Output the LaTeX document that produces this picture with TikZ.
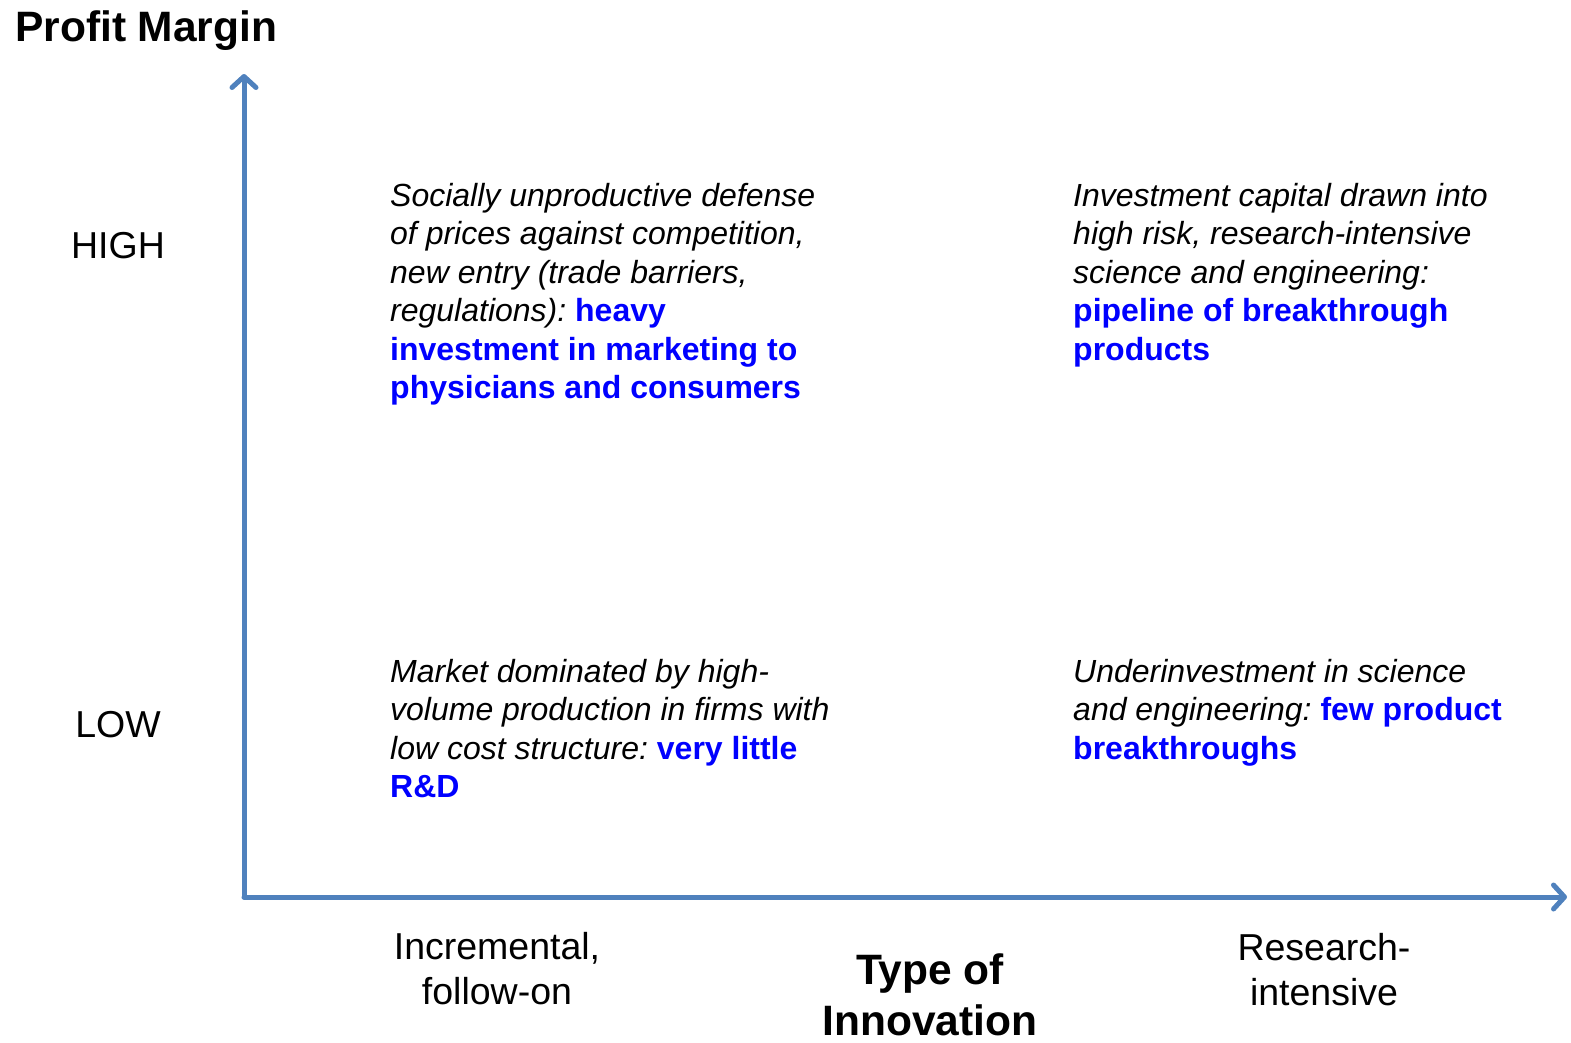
\documentclass[tikz,border=0pt]{standalone}
\usepackage{fontspec}
\setmainfont{Liberation Sans}
\usetikzlibrary{arrows.meta}
\definecolor{axisblue}{RGB}{79,129,189}
\definecolor{hiblue}{RGB}{0,0,255}
\newcommand{\hl}[1]{\textcolor{hiblue}{\bfseries\upshape #1}}
\frenchspacing

\begin{document}
\begin{tikzpicture}[x=1pt, y=-1pt,
  axis/.style = {draw=axisblue, line width=5pt, line cap=round, -{Straight Barb[length=11pt, width=24pt, round]}},
  cell/.style = {anchor=north west, inner sep=0pt, align=left, font=\fontsize{32}{38.5}\selectfont\itshape},
  level/.style = {inner sep=0pt, font=\fontsize{37.5}{45}\selectfont},
  title/.style = {inner sep=0pt, align=center, font=\fontsize{42.5}{51}\selectfont\bfseries}]
\useasboundingbox (0,0) rectangle (1571,1042);
% axes
\coordinate (o) at (244,897);
\coordinate (ytop) at (244,74);
\coordinate (xend) at (1567,897);
\draw[axis] (o) -- (ytop);
\draw[axis] (o) -- (xend);
% axis titles
\node[title, anchor=west] (ytitle) at (15,31) {Profit Margin};
\node[title] (xtitle) at (930,995) {Type of\\Innovation};
% levels
\node[level] (high) at (118,246) {HIGH};
\node[level] (low) at (118,725) {LOW};
\node[level, align=center] (incr) at (497,969) {Incremental,\\follow-on};
\node[level, align=center] (res) at (1324,970) {Research-\\intensive};
% quadrants
\node[cell] (hl) at (390,183) {Socially unproductive defense\\of prices against competition,\\new entry (trade barriers,\\regulations): \hl{heavy}\\\hl{investment in marketing to}\\\hl{physicians and consumers}};
\node[cell] (hr) at (1073,183) {Investment capital drawn into\\high risk, research-intensive\\science and engineering:\\\hl{pipeline of breakthrough}\\\hl{products}};
\node[cell] (ll) at (390,659) {Market dominated by high-\\volume production in firms with\\low cost structure: \hl{very little}\\\hl{R\&D}};
\node[cell] (lr) at (1073,659) {Underinvestment in science\\and engineering: \hl{few product}\\\hl{breakthroughs}};
\end{tikzpicture}
\end{document}
